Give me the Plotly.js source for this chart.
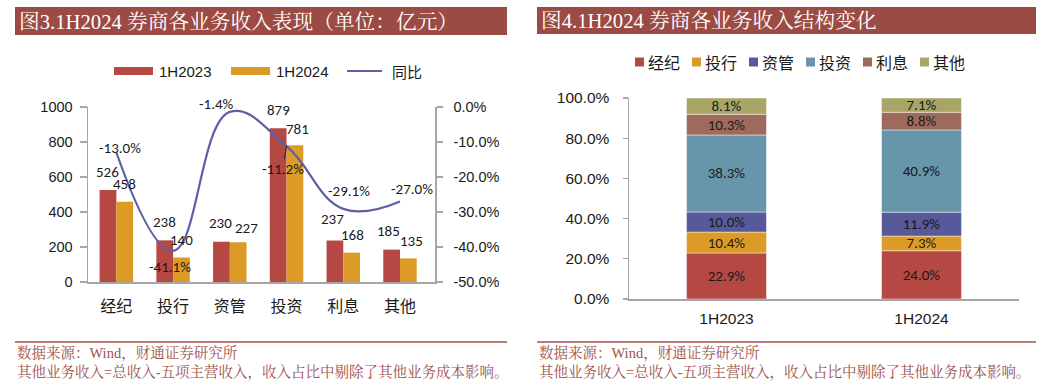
<!DOCTYPE html>
<html><head><meta charset="utf-8">
<script src="https://cdn.plot.ly/plotly-3.0.1.min.js"></script>
<style>html,body{margin:0;padding:0;background:#fff}#chart{width:1052px;height:390px}</style>
</head><body><div id="chart"></div>
<script>
// ---- data ----
const categories = ['经纪','投行','资管','投资','利息','其他'];
const rev2023 = [526,238,230,879,237,185];
const rev2024 = [458,140,227,781,168,135];
const yoyPct = [-13.0,-41.1,-1.4,-11.2,-29.1,-27.0];
const periods = ['1H2023','1H2024'];
const share2023 = [22.9,10.4,10.0,38.3,10.3,8.1];
const share2024 = [24.0,7.3,11.9,40.9,8.8,7.1];
const leftTicks = [0,200,400,600,800,1000];
const rightTicks = [-50,-40,-30,-20,-10,0];
const shareTicks = [0,20,40,60,80,100];
const title1 = '图3.1H2024 券商各业务收入表现（单位：亿元）';
const title2 = '图4.1H2024 券商各业务收入结构变化';
const source = '数据来源：Wind，财通证券研究所';
const note = '其他业务收入=总收入-五项主营收入，收入占比中剔除了其他业务成本影响。';

// ---- styles / placement ----
const W = 1052, H = 390;
const px = x => x / W;
const py = y => 1 - y / H;
const RED = '#B64843', ORANGE = '#DC9B27', LINE = '#5C60A6';
const shareColors = ['#B64843','#DC9B27','#58599A','#6796AA','#9E6A5C','#A8A566'];
const AXC = '#A6A6A6';
const ARIAL = 'Liberation Sans, Arial, sans-serif';
const CJK = 'Noto Sans CJK SC, sans-serif';
const CAL = 'Carlito, Lato, sans-serif';
const SERIF = 'Liberation Serif, Noto Serif CJK SC, Noto Sans CJK SC, serif';
const TXT = '#1a1a1a';
const LBL = 15;
const pctLabelOffsets = [[4,5],[-3,-16],[-13,8],[-4,-23],[6,18],[12,13]];
const nudge2023 = [[0,0],[0,0],[-1,1],[0,0],[-2,4],[-3,1]];
const nudge2024 = [[0,0],[0,0],[8,-4],[2,-2],[1,0],[3,-1]];

const traces = [];
traces.push({type:'bar', x:categories, y:rev2023, name:'1H2023', xaxis:'x', yaxis:'y',
  marker:{color:RED}, offsetgroup:'a', showlegend:false, hoverinfo:'skip'});
traces.push({type:'bar', x:categories, y:rev2024, name:'1H2024', xaxis:'x', yaxis:'y',
  marker:{color:ORANGE}, offsetgroup:'b', showlegend:false, hoverinfo:'skip'});
traces.push({type:'scatter', mode:'lines', x:categories, y:yoyPct, name:'同比', xaxis:'x', yaxis:'y2',
  line:{color:LINE, width:2.2, shape:'spline', smoothing:1.2}, showlegend:false, hoverinfo:'skip', cliponaxis:false});

const cum2023 = [], cum2024 = [];
let a = 0, b = 0;
for (let j = 0; j < categories.length; j++) { cum2023.push(a); cum2024.push(b); a += share2023[j]; b += share2024[j]; }
for (let j = 0; j < categories.length; j++) {
  const vals = [share2023[j], share2024[j]];
  traces.push({type:'bar', x:periods, y:vals, base:[cum2023[j], cum2024[j]], name:categories[j],
    xaxis:'x3', yaxis:'y3', width:0.41, offsetgroup:'s',
    marker:{color:shareColors[j], line:{color:'rgba(255,255,255,0.45)', width:1}},
    text: vals.map(v => v.toFixed(1)+'%'), textposition:'inside', insidetextanchor:'middle',
    textangle:0, constraintext:'none', textfont:{family:CAL, size:15, color:TXT},
    showlegend:false, hoverinfo:'skip'});
}

const shapes = [], annotations = [];
// title bars
const titleBars = [[15,507,7,35,title1],[537,1036,7,34,title2]];
titleBars.forEach(t => {
  shapes.push({type:'rect', xref:'paper', yref:'paper', x0:px(t[0]), x1:px(t[1]), y0:py(t[3]), y1:py(t[2]),
    fillcolor:'#9B4A44', line:{width:0}, layer:'below'});
  annotations.push({xref:'paper', yref:'paper', x:px(t[0]+2), y:py((t[2]+t[3])/2), xanchor:'left', yanchor:'middle',
    text:t[4], showarrow:false, font:{family:SERIF, size:20.7, color:'#ffffff'}});
});
// footers
[[15,507],[537,1036]].forEach(f => {
  shapes.push({type:'line', xref:'paper', yref:'paper', x0:px(f[0]), x1:px(f[1]), y0:py(342), y1:py(342),
    line:{color:'#A94F47', width:1.5}});
  annotations.push({xref:'paper', yref:'paper', x:px(f[0]), y:py(353), xanchor:'left', yanchor:'middle',
    text:source, showarrow:false, font:{family:SERIF, size:14.5, color:'#A0524C'}});
  annotations.push({xref:'paper', yref:'paper', x:px(f[0]), y:py(372), xanchor:'left', yanchor:'middle',
    text:note, showarrow:false, font:{family:SERIF, size:14.5, color:'#A0524C'}});
});
// left legend
const legY = 71;
const leftLegend = [{name:'1H2023', kind:'rect', color:RED, x:114},
                    {name:'1H2024', kind:'rect', color:ORANGE, x:231},
                    {name:'同比', kind:'line', color:LINE, x:347}];
leftLegend.forEach(l => {
  if (l.kind === 'rect') {
    shapes.push({type:'rect', xref:'paper', yref:'paper', x0:px(l.x), x1:px(l.x+39), y0:py(legY+4), y1:py(legY-4),
      fillcolor:l.color, line:{width:0}});
  } else {
    shapes.push({type:'line', xref:'paper', yref:'paper', x0:px(l.x), x1:px(l.x+35), y0:py(legY), y1:py(legY),
      line:{color:l.color, width:2}});
  }
  annotations.push({xref:'paper', yref:'paper', x:px(l.x + 43), y:py(legY), xanchor:'left', yanchor:'middle',
    text:l.name, showarrow:false, font:{family:l.kind==='rect'?ARIAL:CJK, size:15, color:TXT}});
});
// right legend
const rLegY = 62, rLegX0 = 635, rLegStep = 57;
categories.forEach((c, j) => {
  const x = rLegX0 + j * rLegStep;
  shapes.push({type:'rect', xref:'paper', yref:'paper', x0:px(x), x1:px(x+9), y0:py(rLegY+4.5), y1:py(rLegY-4.5),
    fillcolor:shareColors[j], line:{width:0}});
  annotations.push({xref:'paper', yref:'paper', x:px(x+11), y:py(rLegY), xanchor:'left', yanchor:'middle',
    text:c, showarrow:false, font:{family:CJK, size:16, color:TXT}});
});
// bar value labels and yoy labels
categories.forEach((c, i) => {
  annotations.push({xref:'x', yref:'y', x:c, y:rev2023[i], xshift:-8.5 + nudge2023[i][0], yshift:18 + nudge2023[i][1],
    text:String(rev2023[i]), showarrow:false, font:{family:CAL, size:LBL, color:TXT}});
  annotations.push({xref:'x', yref:'y', x:c, y:rev2024[i], xshift:8.5 + nudge2024[i][0], yshift:18 + nudge2024[i][1],
    text:String(rev2024[i]), showarrow:false, font:{family:CAL, size:LBL, color:TXT}});
  const off = pctLabelOffsets[i];
  const txt = yoyPct[i].toFixed(1) + '%';
  if (i === 3) {
    annotations.push({xref:'x', yref:'y2', x:c, y:yoyPct[i], ax:off[0], ay:-off[1], text:txt, showarrow:true,
      arrowhead:0, arrowwidth:1, arrowcolor:'#222', standoff:0, font:{family:CAL, size:LBL, color:TXT}});
  } else {
    annotations.push({xref:'x', yref:'y2', x:c, y:yoyPct[i], xshift:off[0], yshift:off[1], text:txt,
      showarrow:false, font:{family:CAL, size:LBL, color:TXT}});
  }
});

const axBase = {showgrid:false, zeroline:false, showline:true, linecolor:AXC, linewidth:1.5, fixedrange:true};
const layout = {
  width:W, height:H, margin:{l:0,r:0,t:0,b:0}, paper_bgcolor:'#fff', plot_bgcolor:'rgba(0,0,0,0)',
  barmode:'group', bargap:0.41, bargroupgap:0, showlegend:false,
  xaxis:Object.assign({}, axBase, {domain:[px(88), px(435)], anchor:'y', ticks:'', type:'category',
    tickfont:{family:CJK, size:16, color:TXT}, ticklabelstandoff:9}),
  yaxis:Object.assign({}, axBase, {domain:[py(282), py(107)], anchor:'x', range:[0,1000],
    tickvals:leftTicks, ticktext:leftTicks.map(String), ticks:'outside', ticklen:7, tickcolor:AXC, tickwidth:1.2,
    tickfont:{family:ARIAL, size:14.5, color:TXT}, ticklabelstandoff:4}),
  yaxis2:Object.assign({}, axBase, {overlaying:'y', side:'right', anchor:'x', range:[-50,0],
    tickvals:rightTicks, ticktext:rightTicks.map(v => v.toFixed(1)+'%'), ticks:'outside', ticklen:6, tickcolor:AXC, tickwidth:1.2,
    tickfont:{family:ARIAL, size:14.5, color:TXT}, ticklabelstandoff:8}),
  xaxis3:Object.assign({}, axBase, {domain:[px(629), px(1019)], anchor:'y3', ticks:'', type:'category',
    tickfont:{family:ARIAL, size:15.5, color:TXT}, ticklabelstandoff:5}),
  yaxis3:Object.assign({}, axBase, {domain:[py(299), py(98)], anchor:'x3', range:[0,100],
    tickvals:shareTicks, ticktext:shareTicks.map(v => v.toFixed(1)+'%'), ticks:'outside', ticklen:5, tickcolor:AXC, tickwidth:1.2,
    tickfont:{family:ARIAL, size:15.5, color:TXT}, ticklabelstandoff:10}),
  shapes:shapes, annotations:annotations
};
Plotly.newPlot('chart', traces, layout, {staticPlot:true, displayModeBar:false});
</script>
</body></html>
